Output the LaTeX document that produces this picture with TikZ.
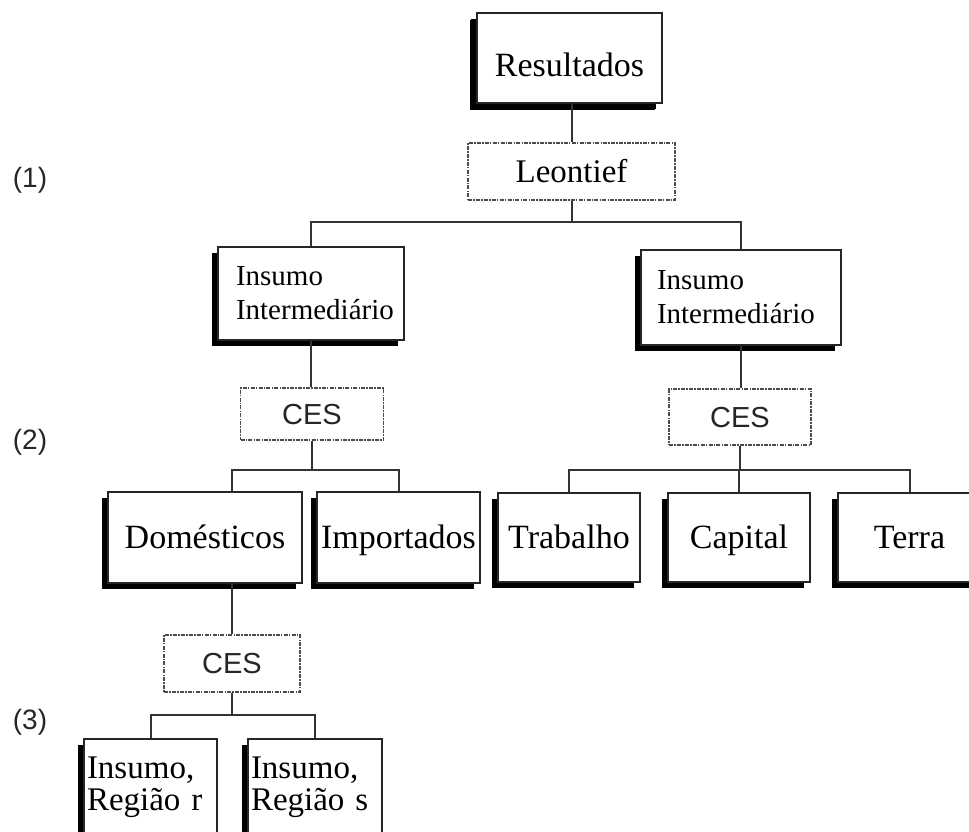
\documentclass[tikz,border=0pt]{standalone}
\usepackage{fontspec}
\setmainfont{Liberation Serif}
\setsansfont{Liberation Sans}
\usetikzlibrary{shadows,calc}
\begin{document}
\begin{tikzpicture}[x=1pt,y=1pt,
  box/.style={draw=black!85, line width=1.6pt, fill=white, inner sep=0pt,
    general shadow={shadow xshift=-6pt, shadow yshift=-6pt, fill=black},
    font=\fontsize{34}{34}\selectfont},
  one/.style={text height=30pt, text depth=7.6pt},
  dbox/.style={draw=black!70, line width=1.6pt,
    dash pattern=on 4pt off 1.2pt on 1.5pt off 1.2pt,
    fill=white, inner sep=0pt},
  cesbox/.style={dbox, font=\sffamily\fontsize{29}{29}\selectfont, text=black!85,
    text height=27pt, text depth=6pt},
  conn/.style={draw=black!80, line width=2pt},
  lvl/.style={font=\sffamily\fontsize{28}{28}\selectfont, text=black!85},
]
\useasboundingbox (0,0) rectangle (969,832);

% level labels
\node[lvl] (l1) at (30,652) {(1)};
\node[lvl] (l2) at (30,390) {(2)};
\node[lvl] (l3) at (30,110) {(3)};

% junction points
\coordinate (j1) at (573,610);
\coordinate (j2) at (312,362);
\coordinate (j3) at (740,362);
\coordinate (j4) at (232,117);

% top
\node[box, minimum width=185pt, minimum height=90pt, text height=40pt, text depth=3.6pt,
  general shadow={shadow xshift=-7pt, shadow yshift=-7pt, fill=black}] (res) at (569.5,774) {Resultados};
\node[dbox, one, minimum width=207pt, minimum height=57pt, font=\fontsize{33}{33}\selectfont] (leo) at (571.5,660.5) {Leontief};

% level 2
\node[box, minimum width=186pt, minimum height=93pt, font=\fontsize{29}{34}\selectfont,
  align=left, text width=150pt, inner xsep=18pt] (li) at (311,538.5) {Insumo\\Intermediário};
\node[box, minimum width=200pt, minimum height=95pt, font=\fontsize{29}{34}\selectfont,
  align=left, text width=168pt, inner xsep=16pt] (ri) at (741,534.5) {Insumo\\Intermediário};

\node[cesbox, minimum width=143pt, minimum height=52pt] (lces) at (312,418) {CES};
\node[cesbox, minimum width=142pt, minimum height=56pt] (rces) at (740,415) {CES};

% level 3
\node[box, one, minimum width=194pt, minimum height=91pt] (dom) at (205,294.5) {Domésticos};
\node[box, one, minimum width=163pt, minimum height=91pt] (imp) at (398.5,294.5) {Importados};
\node[box, one, minimum width=142pt, minimum height=89pt] (trab) at (569,294.5) {Trabalho};
\node[box, one, minimum width=142pt, minimum height=89pt] (cap) at (739,294.5) {Capital};
\node[box, one, minimum width=143pt, minimum height=89pt] (terra) at (909.5,294.5) {Terra};

\node[cesbox, minimum width=136pt, minimum height=57pt] (ces3) at (232,168.5) {CES};

% level 4
\node[box, minimum width=133pt, minimum height=97pt, font=\fontsize{33}{32}\selectfont,
  align=left, text width=127pt, inner xsep=3pt] (ir) at (150.5,44.5) {Insumo,\\Região r};
\node[box, minimum width=134pt, minimum height=97pt, font=\fontsize{33}{32}\selectfont,
  align=left, text width=128pt, inner xsep=3pt] (is) at (315,44.5) {Insumo,\\Região s};

% connectors
\draw[conn] (res.south -| leo.north) -- (leo.north);
\draw[conn] (leo.south) -- (leo.south |- j1);
\draw[conn] (li.north) |- (j1) -| (ri.north);
\draw[conn] (li.south) -- (li.south |- lces.north);
\draw[conn] (ri.south) -- (ri.south |- rces.north);

\draw[conn] (lces.south) -- (lces.south |- j2);
\coordinate (dtop) at ($(dom.north)+(27,0)$);
\draw[conn] (dtop) |- (j2) -| (imp.north);

\draw[conn] (rces.south) -- (rces.south |- j3);
\draw[conn] (trab.north) |- (j3) -| (terra.north);
\draw[conn] (cap.north) -- (cap.north |- j3);

\coordinate (dbot) at ($(dom.south)+(27,0)$);
\draw[conn] (dbot) -- (dbot |- ces3.north);
\draw[conn] (ces3.south) -- (ces3.south |- j4);
\draw[conn] (ir.north) |- (j4) -| (is.north);
\end{tikzpicture}
\end{document}
